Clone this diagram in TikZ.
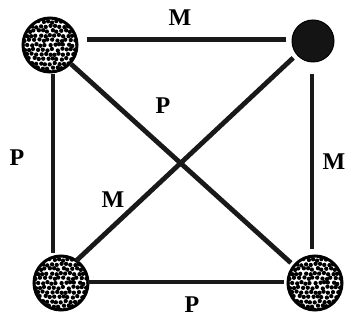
\documentclass[tikz,border=0pt]{standalone}
\usepackage{fontspec}
\setmainfont{Liberation Serif}
\usetikzlibrary{calc}
\begin{document}
\begin{tikzpicture}[x=1pt,y=-1pt,
  edge/.style={line width=4.8pt,black!90},
  lbl/.style={font=\fontsize{24}{24}\selectfont\bfseries,inner sep=0pt},
  stip/.style={circle,draw,line width=3pt,outer sep=0pt,fill=white,
    path picture={
      \pgfmathsetseed{11}
      \foreach \i in {-7,...,7}{
        \foreach \j in {-7,...,7}{
          \pgfmathsetmacro{\dx}{\i*4.6+rand*1.0+2.3*mod(abs(\j),2)}
          \pgfmathsetmacro{\dy}{\j*4.6+rand*1.0}
          \fill[black] ([shift={(\dx,\dy)}]path picture bounding box.center) circle (2.15);
        }
      }
    }},
  blackdot/.style={circle,fill=black!92,draw=black,line width=1pt,outer sep=0pt}]
\useasboundingbox (0,0) rectangle (350,320);
\node[stip,minimum size=54pt] (tl) at (50,45) {};
\node[blackdot,minimum size=42pt] (tr) at (313,41) {};
\node[stip,minimum size=54pt] (bl) at (61,283) {};
\node[stip,minimum size=54pt] (br) at (315,283) {};
\draw[edge] ([shift={(10,-5.5)}]tl.east) -- ([shift={(-6.5,-1.5)}]tr.west);
\draw[edge] ([shift={(3,2)}]tl.south) -- ([shift={(-8,-3)}]bl.north);
\draw[edge] ([shift={(-1,12.5)}]tr.south) -- ([shift={(-3,-7)}]br.north);
\draw[edge] ([shift={(0,-1)}]bl.east) -- ([shift={(-4,-1)}]br.west);
\draw[edge] ([shift={(2,0)}]tl.south east) -- ([shift={(-5,-1)}]br.north west);
\draw[edge] ([shift={(-4,-3)}]bl.north east) -- ([shift={(-5,2)}]tr.south west);
\node[lbl] (m1) at (180,18) {M};
\node[lbl] (p1) at (163,106) {P};
\node[lbl] (p2) at (17,158) {P};
\node[lbl] (m2) at (334,162) {M};
\node[lbl] (m3) at (113,200) {M};
\node[lbl] (p3) at (192,305) {P};
\end{tikzpicture}
\end{document}
